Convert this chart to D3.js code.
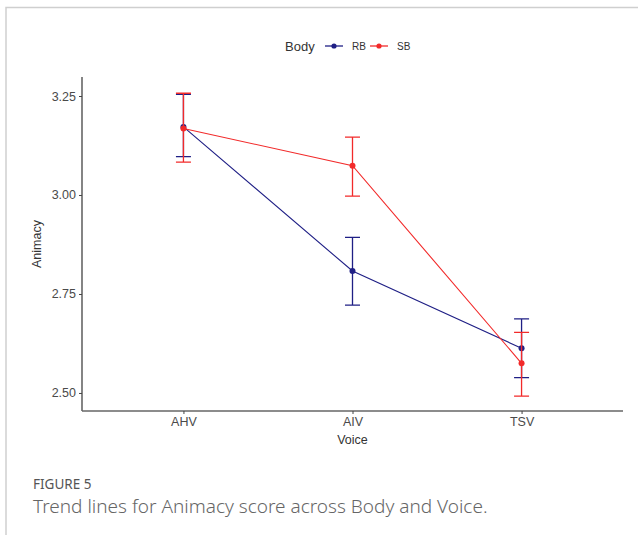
<!DOCTYPE html>
<html>
<head>
<meta charset="utf-8">
<script src="https://cdn.jsdelivr.net/npm/d3@7"></script>
<style>
  body { margin: 0; background: #fff; }
  svg { display: block; }
</style>
</head>
<body>
<svg id="chart" width="638" height="535"></svg>
<script>
"use strict"

// values
const voices = ["AHV", "AIV", "TSV"]
const bodies = ["RB", "SB"]
const rbMean = [3.172, 2.808, 2.613]
const rbLow  = [3.097, 2.722, 2.539]
const rbHigh = [3.254, 2.893, 2.687]
const sbMean = [3.168, 3.074, 2.575]
const sbLow  = [3.083, 2.997, 2.492]
const sbHigh = [3.257, 3.146, 2.653]
const yTicks = [2.50, 2.75, 3.00, 3.25]

const colors = { RB: "#1f1f85", SB: "#f22a2a" }

const series = [
    { name: "RB", mean: rbMean, low: rbLow, high: rbHigh },
    { name: "SB", mean: sbMean, low: sbLow, high: sbHigh }
]

const svg = d3.select("#chart")
const font = "'Liberation Sans', Arial, sans-serif"
const capFont = "'Noto Sans', 'Open Sans', sans-serif"

// card frame
svg.append("path")
   .attr("d", "M6,535 V7.5 H638")
   .attr("fill", "none")
   .attr("stroke", "#cfcfcf")
   .attr("stroke-width", 1.5)

const pLeft = 82, pRight = 623, pTop = 77, pBottom = 411

const x = d3.scalePoint().domain(voices).range([pLeft, pRight]).padding(0.6)
const y = d3.scaleLinear().domain([2.4545, 3.298]).range([pBottom, pTop])

// axes
const yAxis = svg.append("g").attr("transform", `translate(${pLeft},0)`)
    .call(d3.axisLeft(y).tickValues(yTicks).tickFormat(d3.format(".2f")).tickSize(3).tickPadding(3))
const xAxis = svg.append("g").attr("transform", `translate(0,${pBottom})`)
    .call(d3.axisBottom(x).tickSize(3).tickPadding(3))

yAxis.select(".domain").attr("d", `M0,${pTop}V${pBottom}`)
xAxis.select(".domain").attr("d", `M${pLeft},0H${pRight}`)

svg.selectAll(".domain").attr("stroke", "#666").attr("stroke-width", 1.6)
svg.selectAll(".tick line").attr("stroke", "#444")
svg.selectAll(".tick text")
   .attr("font-family", font).attr("font-size", 12.5).attr("fill", "#4a4a4a")

// axis titles
svg.append("text")
   .attr("x", x("AIV")).attr("y", 444)
   .attr("text-anchor", "middle")
   .attr("font-family", font).attr("font-size", 12.5).attr("fill", "#333")
   .text("Voice")

svg.append("text")
   .attr("transform", "translate(41,244) rotate(-90)")
   .attr("text-anchor", "middle")
   .attr("font-family", font).attr("font-size", 12.5).attr("fill", "#333")
   .text("Animacy")

// series
const line = d3.line().x(d => x(d.v)).y(d => y(d.m))
const capW = 7.5

series.forEach(s => {
    const pts = voices.map((v, i) => ({ v, m: s.mean[i], lo: s.low[i], hi: s.high[i] }))
    const g = svg.append("g").attr("class", s.name)
    const c = colors[s.name]

    g.append("path").datum(pts)
     .attr("d", line).attr("fill", "none").attr("stroke", c).attr("stroke-width", 1.1)

    g.selectAll(".eb").data(pts).enter().append("path")
     .attr("d", d => {
         const cx = x(d.v)
         return `M${cx - capW},${y(d.hi)}H${cx + capW}M${cx},${y(d.hi)}V${y(d.lo)}M${cx - capW},${y(d.lo)}H${cx + capW}`
     })
     .attr("fill", "none").attr("stroke", c).attr("stroke-width", 1.3)

    g.selectAll("circle").data(pts).enter().append("circle")
     .attr("cx", d => x(d.v)).attr("cy", d => y(d.m)).attr("r", 3).attr("fill", c)
})

// legend
const lg = svg.append("g").attr("transform", "translate(0,46)")
lg.append("text").attr("x", 285).attr("y", 4.5)
  .attr("font-family", font).attr("font-size", 13).attr("fill", "#333").text("Body")

const keyX = [325, 370]
bodies.forEach((b, i) => {
    const kx = keyX[i]
    lg.append("line").attr("x1", kx).attr("x2", kx + 18).attr("y1", 0).attr("y2", 0)
      .attr("stroke", colors[b]).attr("stroke-width", 1.3)
    lg.append("circle").attr("cx", kx + 9).attr("cy", 0).attr("r", 2.6).attr("fill", colors[b])
    lg.append("text").attr("x", kx + 27).attr("y", 3.5)
      .attr("font-family", font).attr("font-size", 10).attr("fill", "#333").text(b)
})

// caption
svg.append("text").attr("x", 33).attr("y", 489)
   .attr("font-family", capFont).attr("font-size", 13.5).attr("fill", "#555")
   .text("FIGURE 5")
svg.append("text").attr("x", 33).attr("y", 513)
   .attr("font-family", capFont).attr("font-size", 19).attr("fill", "#666")
   .attr("font-weight", 300)
   .text("Trend lines for Animacy score across Body and Voice.")
</script>
</body>
</html>
